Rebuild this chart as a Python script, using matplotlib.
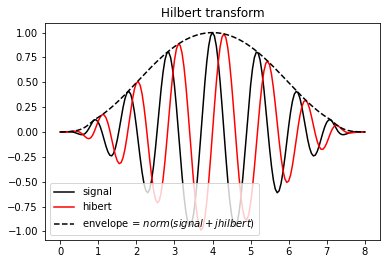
import matplotlib
matplotlib.use("Agg")
import matplotlib.pyplot as plt

# sample times (step 0.05 from 0 to 8)
t = [
    0.00, 0.05, 0.10, 0.15, 0.20, 0.25, 0.30, 0.35, 0.40, 0.45,
    0.50, 0.55, 0.60, 0.65, 0.70, 0.75, 0.80, 0.85, 0.90, 0.95,
    1.00, 1.05, 1.10, 1.15, 1.20, 1.25, 1.30, 1.35, 1.40, 1.45,
    1.50, 1.55, 1.60, 1.65, 1.70, 1.75, 1.80, 1.85, 1.90, 1.95,
    2.00, 2.05, 2.10, 2.15, 2.20, 2.25, 2.30, 2.35, 2.40, 2.45,
    2.50, 2.55, 2.60, 2.65, 2.70, 2.75, 2.80, 2.85, 2.90, 2.95,
    3.00, 3.05, 3.10, 3.15, 3.20, 3.25, 3.30, 3.35, 3.40, 3.45,
    3.50, 3.55, 3.60, 3.65, 3.70, 3.75, 3.80, 3.85, 3.90, 3.95,
    4.00,
    4.05, 4.10, 4.15, 4.20, 4.25, 4.30, 4.35, 4.40, 4.45, 4.50,
    4.55, 4.60, 4.65, 4.70, 4.75, 4.80, 4.85, 4.90, 4.95, 5.00,
    5.05, 5.10, 5.15, 5.20, 5.25, 5.30, 5.35, 5.40, 5.45, 5.50,
    5.55, 5.60, 5.65, 5.70, 5.75, 5.80, 5.85, 5.90, 5.95, 6.00,
    6.05, 6.10, 6.15, 6.20, 6.25, 6.30, 6.35, 6.40, 6.45, 6.50,
    6.55, 6.60, 6.65, 6.70, 6.75, 6.80, 6.85, 6.90, 6.95, 7.00,
    7.05, 7.10, 7.15, 7.20, 7.25, 7.30, 7.35, 7.40, 7.45, 7.50,
    7.55, 7.60, 7.65, 7.70, 7.75, 7.80, 7.85, 7.90, 7.95, 8.00,
]

signal = [
    0.0001, 0.0005, 0.0012, 0.0020, 0.0025, 0.0024, 0.0011, -0.0022, -0.0075, -0.0145,
    -0.0220, -0.0266, -0.0259, -0.0161, 0.0040, 0.0338, 0.0692, 0.1026, 0.1238, 0.1211,
    0.0976, 0.0540, -0.0053, -0.0733, -0.1405, -0.1967, -0.2325, -0.2403, -0.2159, -0.1594,
    -0.0751, 0.0287, 0.1405, 0.2470, 0.3347, 0.3918, 0.4091, 0.3819, 0.3101, 0.1987,
    0.0573, -0.1009, -0.2603, -0.4049, -0.5194, -0.5910, -0.6110, -0.5752, -0.4848, -0.3458,
    -0.1692, 0.0306, 0.2370, 0.4322, 0.5995, 0.7239, 0.7942, 0.8033, 0.7492, 0.6348,
    0.4680, 0.2609, 0.0287, -0.2113, -0.4411, -0.6433, -0.8027, -0.9071, -0.9482, -0.9226,
    -0.8315, -0.6809, -0.4811, -0.2459, 0.0083, 0.2638, 0.5027, 0.7084, 0.8665, 0.9660,
    1.0000,
    0.9660, 0.8665, 0.7084, 0.5027, 0.2638, 0.0083, -0.2459, -0.4811, -0.6809, -0.8315,
    -0.9226, -0.9482, -0.9071, -0.8027, -0.6433, -0.4411, -0.2113, 0.0287, 0.2609, 0.4680,
    0.6348, 0.7492, 0.8033, 0.7942, 0.7239, 0.5995, 0.4322, 0.2370, 0.0306, -0.1692,
    -0.3458, -0.4848, -0.5752, -0.6110, -0.5910, -0.5194, -0.4049, -0.2603, -0.1009, 0.0573,
    0.1987, 0.3101, 0.3819, 0.4091, 0.3918, 0.3347, 0.2470, 0.1405, 0.0287, -0.0751,
    -0.1594, -0.2159, -0.2403, -0.2325, -0.1967, -0.1405, -0.0733, -0.0053, 0.0540, 0.0976,
    0.1211, 0.1238, 0.1026, 0.0692, 0.0338, 0.0040, -0.0161, -0.0259, -0.0266, -0.0220,
    -0.0145, -0.0075, -0.0022, 0.0011, 0.0024, 0.0025, 0.0020, 0.0012, 0.0005, 0.0001,
]

hilbert = [
    -0.0006, -0.0006, -0.0006, 0.0001, 0.0013, 0.0034, 0.0060, 0.0081, 0.0090, 0.0070,
    0.0004, -0.0113, -0.0275, -0.0453, -0.0609, -0.0668, -0.0587, -0.0328, 0.0101, 0.0611,
    0.1109, 0.1511, 0.1737, 0.1729, 0.1457, 0.0928, 0.0191, -0.0674, -0.1559, -0.2346,
    -0.2919, -0.3183, -0.3077, -0.2581, -0.1723, -0.0577, 0.0744, 0.2100, 0.3343, 0.4328,
    0.4933, 0.5070, 0.4700, 0.3834, 0.2532, 0.0903, -0.0911, -0.2746, -0.4432, -0.5808,
    -0.6738, -0.7125, -0.6918, -0.6116, -0.4770, -0.2979, -0.0881, 0.1362, 0.3571, 0.5570,
    0.7198, 0.8321, 0.8844, 0.8718, 0.7943, 0.6570, 0.4691, 0.2440, -0.0023, -0.2522,
    -0.4877, -0.6920, -0.8502, -0.9510, -0.9870, -0.9552, -0.8578, -0.7012, -0.4962, -0.2570,
    0.0000,
    0.2570, 0.4962, 0.7012, 0.8578, 0.9552, 0.9870, 0.9510, 0.8502, 0.6920, 0.4877,
    0.2522, 0.0023, -0.2440, -0.4691, -0.6570, -0.7943, -0.8718, -0.8844, -0.8321, -0.7198,
    -0.5570, -0.3571, -0.1362, 0.0881, 0.2979, 0.4770, 0.6116, 0.6918, 0.7125, 0.6738,
    0.5808, 0.4432, 0.2746, 0.0911, -0.0903, -0.2532, -0.3834, -0.4700, -0.5070, -0.4933,
    -0.4328, -0.3343, -0.2100, -0.0744, 0.0577, 0.1723, 0.2581, 0.3077, 0.3183, 0.2919,
    0.2346, 0.1559, 0.0674, -0.0191, -0.0928, -0.1457, -0.1729, -0.1737, -0.1511, -0.1109,
    -0.0611, -0.0101, 0.0328, 0.0587, 0.0668, 0.0609, 0.0453, 0.0275, 0.0113, -0.0004,
    -0.0070, -0.0090, -0.0081, -0.0060, -0.0034, -0.0013, -0.0001, 0.0006, 0.0006, 0.0006,
]

envelope = [
    0.0006, 0.0008, 0.0014, 0.0020, 0.0028, 0.0041, 0.0061, 0.0084, 0.0117, 0.0161,
    0.0220, 0.0289, 0.0378, 0.0481, 0.0610, 0.0749, 0.0908, 0.1077, 0.1242, 0.1356,
    0.1477, 0.1604, 0.1738, 0.1878, 0.2023, 0.2175, 0.2333, 0.2495, 0.2664, 0.2837,
    0.3014, 0.3196, 0.3382, 0.3572, 0.3765, 0.3960, 0.4158, 0.4358, 0.4560, 0.4762,
    0.4966, 0.5170, 0.5373, 0.5576, 0.5778, 0.5979, 0.6177, 0.6374, 0.6568, 0.6759,
    0.6947, 0.7132, 0.7312, 0.7489, 0.7661, 0.7828, 0.7990, 0.8147, 0.8299, 0.8445,
    0.8586, 0.8720, 0.8848, 0.8970, 0.9086, 0.9195, 0.9297, 0.9393, 0.9482, 0.9564,
    0.9640, 0.9708, 0.9769, 0.9823, 0.9870, 0.9910, 0.9942, 0.9967, 0.9986, 0.9996,
    1.0000,
    0.9996, 0.9986, 0.9967, 0.9942, 0.9910, 0.9870, 0.9823, 0.9769, 0.9708, 0.9640,
    0.9564, 0.9482, 0.9393, 0.9297, 0.9195, 0.9086, 0.8970, 0.8848, 0.8720, 0.8586,
    0.8445, 0.8299, 0.8147, 0.7990, 0.7828, 0.7661, 0.7489, 0.7312, 0.7132, 0.6947,
    0.6759, 0.6568, 0.6374, 0.6177, 0.5979, 0.5778, 0.5576, 0.5373, 0.5170, 0.4966,
    0.4762, 0.4560, 0.4358, 0.4158, 0.3960, 0.3765, 0.3572, 0.3382, 0.3196, 0.3014,
    0.2837, 0.2664, 0.2495, 0.2333, 0.2175, 0.2023, 0.1878, 0.1738, 0.1604, 0.1477,
    0.1356, 0.1242, 0.1077, 0.0908, 0.0749, 0.0610, 0.0481, 0.0378, 0.0289, 0.0220,
    0.0161, 0.0117, 0.0084, 0.0061, 0.0041, 0.0028, 0.0020, 0.0014, 0.0008, 0.0006,
]

DPI = 72
fig = plt.figure(figsize=(390 / DPI, 264 / DPI), dpi=DPI)
ax = fig.add_axes([0.1154, 0.0909, 0.859, 0.823])

ax.plot(t, signal, "k", label="signal")
ax.plot(t, hilbert, "r", label="hibert")
ax.plot(t, envelope, "k--", label="envelope = $norm(signal + jhilbert)$")

ax.set_title("Hilbert transform")
ax.legend(loc="lower left")

fig.savefig("out.png", dpi=DPI)
